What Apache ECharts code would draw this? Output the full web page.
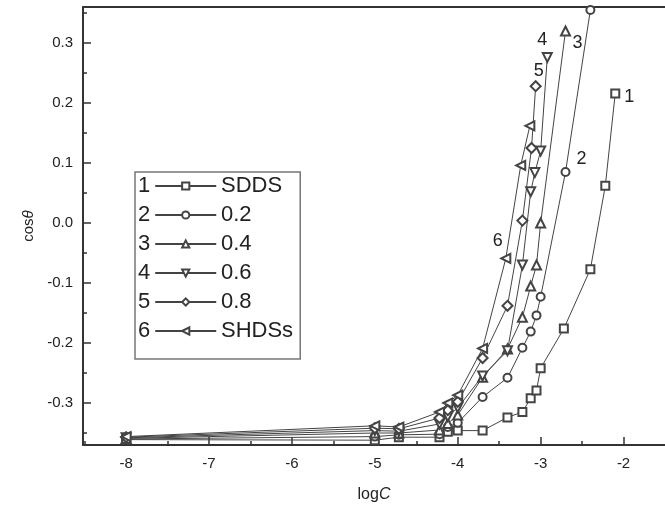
<!DOCTYPE html>
<html>
<head>
<meta charset="utf-8">
<script src="https://cdn.jsdelivr.net/npm/echarts@6/dist/echarts.min.js"></script>
<style>
  html, body { margin: 0; padding: 0; background: #fff; }
  #chart { width: 665px; height: 511px; }
</style>
</head>
<body>
<div id="chart"></div>
<script>
// Contact-angle cosine vs. log concentration for six surfactant systems
const seriesNames = ['SDDS', '0.2', '0.4', '0.6', '0.8', 'SHDSs'];
const seriesNumbers = ['1', '2', '3', '4', '5', '6'];

const logC1 = [-8, -5, -4.71, -4.22, -4.12, -4.0, -3.7, -3.4, -3.22, -3.12, -3.05, -3.0, -2.72, -2.4, -2.22, -2.1];
const cos1  = [-0.361, -0.362, -0.357, -0.357, -0.348, -0.346, -0.346, -0.324, -0.315, -0.292, -0.279, -0.242, -0.176, -0.077, 0.062, 0.216];

const logC2 = [-8, -5, -4.71, -4.22, -4.12, -4.0, -3.7, -3.4, -3.22, -3.12, -3.05, -3.0, -2.7, -2.4];
const cos2  = [-0.36, -0.356, -0.353, -0.352, -0.34, -0.333, -0.29, -0.258, -0.208, -0.181, -0.154, -0.123, 0.085, 0.355];

const logC3 = [-8, -5, -4.71, -4.22, -4.12, -4.0, -3.7, -3.4, -3.22, -3.12, -3.05, -3.0, -2.7];
const cos3  = [-0.359, -0.35, -0.35, -0.345, -0.334, -0.32, -0.257, -0.21, -0.157, -0.105, -0.07, 0.0, 0.32];

const logC4 = [-8, -5, -4.71, -4.22, -4.12, -4.0, -3.7, -3.4, -3.22, -3.12, -3.07, -3.0, -2.92];
const cos4  = [-0.358, -0.346, -0.347, -0.335, -0.323, -0.308, -0.255, -0.213, -0.07, 0.052, 0.084, 0.12, 0.276];

const logC5 = [-8, -5, -4.71, -4.22, -4.12, -4.0, -3.7, -3.4, -3.22, -3.11, -3.06];
const cos5  = [-0.357, -0.342, -0.343, -0.325, -0.312, -0.298, -0.225, -0.138, 0.004, 0.125, 0.228];

const logC6 = [-8, -5, -4.71, -4.22, -4.12, -4.0, -3.7, -3.42, -3.24, -3.13];
const cos6  = [-0.356, -0.338, -0.34, -0.315, -0.30, -0.287, -0.209, -0.059, 0.096, 0.162];

const xTicks = [-8, -7, -6, -5, -4, -3, -2];
const xMinorTicks = [-8.5, -7.5, -6.5, -5.5, -4.5, -3.5, -2.5];
const yTicks = [-0.3, -0.2, -0.1, 0.0, 0.1, 0.2, 0.3];
const yMinorTicks = [-0.35, -0.25, -0.15, -0.05, 0.05, 0.15, 0.25, 0.35];

const allLogC = [logC1, logC2, logC3, logC4, logC5, logC6];
const allCos = [cos1, cos2, cos3, cos4, cos5, cos6];

const FONT = '"Liberation Sans", Arial, sans-serif';
const INK = '#222';
const LINE = '#444';

// marker style per series
const symbols = [
  { symbol: 'emptyRect', size: 8, rotate: 0 },
  { symbol: 'emptyCircle', size: 8, rotate: 0 },
  { symbol: 'emptyTriangle', size: 9, rotate: 0 },
  { symbol: 'emptyTriangle', size: 9, rotate: 180 },
  { symbol: 'emptyDiamond', size: 10, rotate: 0 },
  { symbol: 'emptyTriangle', size: 9, rotate: 90 }
];
// which point carries the curve number, and where the number sits
const curveTags = [
  { index: 15, offset: [14, 4] },
  { index: 12, offset: [16, -13] },
  { index: 12, offset: [12, 12] },
  { index: 12, offset: [-5, -17] },
  { index: 10, offset: [3, -15] },
  { index: 7, offset: [-8, -17] }
];

const series = seriesNames.map((name, s) => ({
  name: name,
  type: 'line',
  xAxisIndex: 0,
  yAxisIndex: 0,
  symbol: symbols[s].symbol,
  symbolSize: symbols[s].size,
  symbolRotate: symbols[s].rotate,
  clip: true,
  lineStyle: { color: LINE, width: 1 },
  itemStyle: { color: LINE, borderWidth: 1 },
  emphasis: { disabled: true },
  data: allLogC[s].map((x, i) => {
    const pt = { value: [x, allCos[s][i]] };
    if (i === curveTags[s].index) {
      pt.label = {
        show: true,
        formatter: seriesNumbers[s],
        position: 'inside',
        offset: curveTags[s].offset,
        color: INK,
        fontFamily: FONT,
        fontSize: 18
      };
    }
    return pt;
  })
}));

const legendCommon = {
  orient: 'vertical',
  data: seriesNames,
  itemGap: 7,
  itemHeight: 9,
  selectedMode: false,
  textStyle: { fontFamily: FONT, fontSize: 22, color: INK, lineHeight: 22 }
};

const option = {
  backgroundColor: '#fff',
  animation: false,
  grid: { left: 83, top: 7, right: -11, bottom: 66, containLabel: false },
  legend: [
    Object.assign({}, legendCommon, {
      left: 135,
      top: 172,
      align: 'right',
      itemWidth: 61,
      padding: [3, 83, 17, 3],
      borderColor: '#777',
      borderWidth: 1.5,
      formatter: name => seriesNumbers[seriesNames.indexOf(name)]
    }),
    Object.assign({}, legendCommon, {
      left: 216,
      top: 175,
      padding: 0,
      icon: 'none',
      itemWidth: 0,
      formatter: name => name
    })
  ],
  xAxis: [
    {
      type: 'value',
      position: 'bottom',
      min: -8.52,
      max: -1.5,
      name: '{n|log}{i|C}',
      nameLocation: 'middle',
      nameGap: 42,
      nameTextStyle: {
        rich: {
          n: { fontFamily: FONT, fontSize: 16, color: INK },
          i: { fontFamily: FONT, fontSize: 16, color: INK, fontStyle: 'italic' }
        }
      },
      axisLine: { show: true, onZero: false, lineStyle: { color: '#333', width: 2 } },
      axisTick: { show: true, inside: true, length: 8, customValues: xTicks, lineStyle: { color: '#333', width: 1.5 } },
      axisLabel: { customValues: xTicks, margin: 11, fontFamily: FONT, fontSize: 15, color: INK, formatter: v => String(v) },
      splitLine: { show: false }
    },
    {
      type: 'value',
      position: 'bottom',
      min: -8.52,
      max: -1.5,
      axisLine: { show: false, onZero: false },
      axisTick: { show: true, inside: true, length: 4, customValues: xMinorTicks, lineStyle: { color: '#333', width: 1.5 } },
      axisLabel: { show: false },
      splitLine: { show: false }
    },
    {
      type: 'value',
      position: 'top',
      min: -8.52,
      max: -1.5,
      axisLine: { show: true, onZero: false, lineStyle: { color: '#333', width: 2 } },
      axisTick: { show: false },
      axisLabel: { show: false },
      splitLine: { show: false }
    }
  ],
  yAxis: [
    {
      type: 'value',
      position: 'left',
      min: -0.37,
      max: 0.36,
      name: 'cos{i|θ}',
      nameLocation: 'middle',
      nameGap: 46,
      nameTextStyle: {
        fontFamily: FONT, fontSize: 15, color: INK,
        rich: { i: { fontFamily: FONT, fontSize: 15, color: INK, fontStyle: 'italic' } }
      },
      axisLine: { show: true, onZero: false, lineStyle: { color: '#333', width: 2 } },
      axisTick: { show: true, inside: true, length: 8, customValues: yTicks, lineStyle: { color: '#333', width: 1.5 } },
      axisLabel: { customValues: yTicks, margin: 10, fontFamily: FONT, fontSize: 15, color: INK, formatter: v => v.toFixed(1) },
      splitLine: { show: false }
    },
    {
      type: 'value',
      position: 'left',
      min: -0.37,
      max: 0.36,
      axisLine: { show: false, onZero: false },
      axisTick: { show: true, inside: true, length: 4, customValues: yMinorTicks, lineStyle: { color: '#333', width: 1.5 } },
      axisLabel: { show: false },
      splitLine: { show: false }
    }
  ],
  series: series
};

const chart = echarts.init(document.getElementById('chart'), null, { renderer: 'canvas' });
chart.setOption(option);
</script>
</body>
</html>
